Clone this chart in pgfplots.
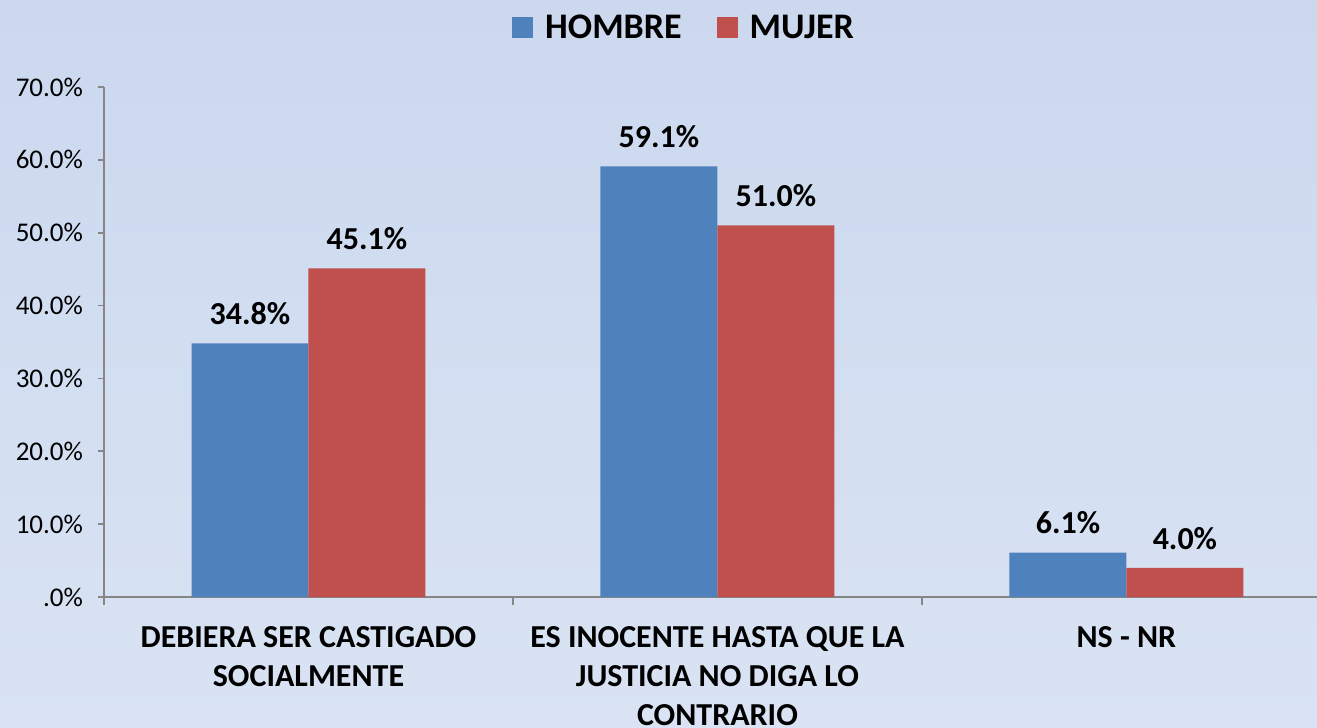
\documentclass[border=0pt]{standalone}
\usepackage{pgfplots}
\pgfplotsset{compat=1.18}
\usepackage{fontspec}
\setmainfont{Carlito}
\definecolor{bhom}{HTML}{4F81BD}
\definecolor{bmuj}{HTML}{C0504D}
\definecolor{bgtop}{RGB}{203,216,238}
\definecolor{bgmid}{RGB}{193,210,238}
\definecolor{bgbot}{RGB}{217,227,243}
\definecolor{axgray}{HTML}{868686}
\begin{document}
\begin{tikzpicture}
\shade[top color=bgtop, middle color=bgmid, bottom color=bgbot] (-52bp,-65.5bp) rectangle (606.5bp,298.5bp);
\path[use as bounding box] (-52bp,-65.5bp) rectangle (606.5bp,298.5bp);
\begin{axis}[
  at={(0,0)}, anchor=south west,
  scale only axis, width=606.5bp, height=255bp,
  xmin=-0.5, xmax=2.466, ymin=0, ymax=70,
  axis x line=bottom, axis y line=left,
  every outer x axis line/.append style={-},
  every outer y axis line/.append style={-},
  axis line style={axgray, line width=0.9bp},
  ytick={0,10,20,30,40,50,60,70},
  yticklabels={.0\%,10.0\%,20.0\%,30.0\%,40.0\%,50.0\%,60.0\%,70.0\%},
  yticklabel style={font=\fontsize{13.5bp}{15bp}\selectfont, text=black, xshift=-4bp},
  xtick={0,1,2},
  xticklabels={{DEBIERA SER CASTIGADO\\SOCIALMENTE},{ES INOCENTE HASTA QUE LA\\JUSTICIA NO DIGA LO\\CONTRARIO},{NS - NR}},
  xticklabel style={font=\bfseries\fontsize{16bp}{19.5bp}\selectfont, align=center, text=black, yshift=-8bp},
  minor xtick={-0.5,0.5,1.5},
  tick align=outside,
  major tick length=3bp, minor tick length=4bp,
  major x tick style={draw=none},
  tick style={axgray, line width=0.9bp},
  ybar, bar width=0.286,
  nodes near coords={\pgfmathprintnumber[fixed,fixed zerofill,precision=1,assume math mode=true]{\pgfplotspointmeta}\%},
  every node near coord/.append style={font=\bfseries\fontsize{16bp}{18bp}\selectfont, text=black, inner sep=0pt, anchor=south, yshift=9bp},
  legend style={at={(0.479,1.1157)}, anchor=center, draw=none, fill=none, legend columns=2,
    font=\bfseries\fontsize{18bp}{20bp}\selectfont, /tikz/every even column/.append style={column sep=15.5bp}},
  legend image code/.code={\fill[#1] (0bp,-5.25bp) rectangle (10.5bp,5.25bp); \path (14.5bp,0bp);},
]
\addplot[fill=bhom, draw=none, bar shift=-0.143] coordinates {(0,34.8) (1,59.1) (2,6.1)};
\addplot[fill=bmuj, draw=none, bar shift=0.143] coordinates {(0,45.1) (1,51.0) (2,4.0)};
\legend{HOMBRE, MUJER}
\end{axis}
\end{tikzpicture}
\end{document}
